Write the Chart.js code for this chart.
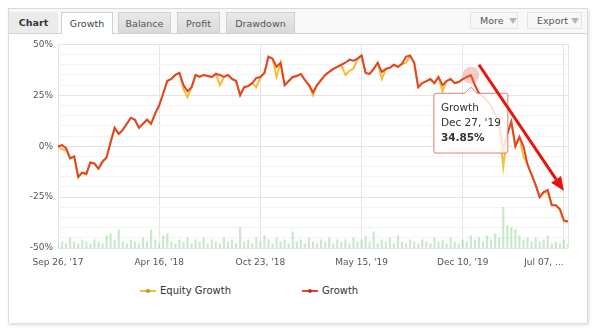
<!DOCTYPE html>
<html>
<head>
<meta charset="utf-8">
<title>Growth</title>
<script src="https://cdn.jsdelivr.net/npm/chart.js@4.4.1/dist/chart.umd.min.js"></script>
<style>
  html, body { margin: 0; padding: 0; width: 599px; height: 336px; overflow: hidden; background: #fff; }
  body { position: relative; font-family: "DejaVu Sans", Verdana, sans-serif; color: #333; }
  #frame { position: absolute; left: 8px; top: 8px; width: 578px; height: 313px; border: 1px solid #dadada;
           background: #f8f8f8; box-shadow: 1px 2px 3px rgba(0,0,0,0.15); }
  #panel { position: absolute; left: 9px; top: 33px; width: 578px; height: 289px; background: #fff; border-top: 1px solid #d2d2d2; }
  #lbl { position: absolute; left: 9px; top: 12px; width: 49px; height: 21px; line-height: 21px; background: #ebebeb;
         font-weight: bold; font-size: 9.5px; text-align: center; color: #333; }
  .tab { position: absolute; top: 12px; height: 21px; line-height: 21px; font-size: 9.5px; color: #555; text-align: center;
         box-sizing: border-box; border: 1px solid #d0d0d0; border-bottom: none; background: linear-gradient(#e9e9e9, #d9d9d9); }
  .tab.on { background: #fff; height: 22px; z-index: 2; color: #444; }
  .btn { position: absolute; top: 12px; height: 17px; line-height: 16px; box-sizing: border-box; border: 1px solid #e3e3e3;
         background: #f7f7f7; font-size: 9.5px; color: #555; padding-left: 9px; }
  .btn i { position: absolute; top: 5px; width: 0; height: 0; border-left: 4px solid transparent; border-right: 4px solid transparent;
           border-top: 6px solid #b5b5b5; }
  canvas { position: absolute; left: 0; top: 34px; }
  .leg { position: absolute; top: 284px; height: 14px; line-height: 14px; font-size: 10px; color: #333; padding-left: 20px; }
  .leg b { position: absolute; left: 0; top: 6px; width: 16px; height: 2px; }
  .leg b::after { content: ''; position: absolute; left: 6px; top: -1px; width: 4px; height: 4px; border-radius: 2px; background: inherit; filter: brightness(0.8); }
</style>
</head>
<body>
<div id="frame"></div>
<div id="panel"></div>
<div id="lbl">Chart</div>
<div class="tab on" style="left:61px;width:52px">Growth</div>
<div class="tab" style="left:118px;width:53px">Balance</div>
<div class="tab" style="left:177px;width:43px">Profit</div>
<div class="tab" style="left:226px;width:69px">Drawdown</div>
<div class="btn" style="left:470px;width:48px">More<i style="left:38px"></i></div>
<div class="btn" style="left:527px;width:55px">Export<i style="left:43px"></i></div>
<canvas id="chart" width="599" height="250"></canvas>
<div class="leg" style="left:140px"><b style="background:#f6bd2e"></b>Equity Growth</div>
<div class="leg" style="left:302px"><b style="background:#e0452c"></b>Growth</div>

<script>
// Tick labels shown every `tickEvery` points along the category axis.
const tickLabels = ["Sep 26, '17", "Apr 16, '18", "Oct 23, '18", "May 15, '19", "Dec 10, '19", "Jul 07, ..."];
const tickEvery = 25;

// Growth (%).
const growth = [
  0, 0.5, -1, -6, -5, -15, -13, -13.5, -8, -8.5,
  -11, -7.5, -5.5, 2, 9, 6, 8, 11, 14, 13,
  9, 11, 13, 11, 16, 20, 26, 32, 33, 35,
  36, 30, 27, 29, 35, 34, 35, 34.5, 34, 35.5,
  35, 34, 35, 33, 32, 25, 29, 29.5, 31, 33.5,
  34, 36, 44, 43, 39, 41, 30, 32, 34, 34.5,
  35.5, 32.5, 30, 26.5, 30, 32.5, 35, 36.5, 38, 39,
  40, 41, 42.5, 42, 43, 44.5, 36, 35.5, 38, 41,
  36.5, 38, 38.5, 40, 39, 40.5, 44, 44.5, 41, 29,
  31, 32, 33, 31, 34, 30, 32, 33, 31, 31.5,
  33, 34, 34.85, 30, 26, 24.5, 22.5, 19.5, 16, 10,
  -1, 6, 12, 0, 4.5, 0, -9, -14, -19, -25,
  -22.5, -21.5, -29, -29, -31, -36.5, -37
];

// Equity growth (%): follows growth, dips below it in places.
const equity = [
  0, -1.5, -2, -6, -5, -15.5, -13, -14, -8, -8.5,
  -11, -8, -5.5, 2, 9, 6, 8, 11, 14, 13,
  9, 11, 13, 11, 16, 20, 26, 32, 33, 35,
  36, 28, 24, 29, 35, 34, 35, 34.5, 34, 35.5,
  30, 34, 35, 33, 32, 25, 29, 29.5, 31, 29,
  34, 36, 44, 43, 34, 41, 30, 32, 34, 34.5,
  35.5, 32.5, 30, 25, 30, 32.5, 35, 36.5, 38, 39,
  40, 35, 37, 38, 43, 44.5, 36, 35.5, 38, 41,
  33, 38, 38.5, 40, 39, 40.5, 41, 44.5, 41, 29,
  31, 32, 33, 31, 34, 27, 32, 33, 31, 31.5,
  33, 34, 34.85, 30, 26, 24.5, 22.5, 19.5, 16, 10,
  -10, 6, 12, 0, 4.5, -5, -9, -14, -19, -25,
  -22.5, -23, -29, -29, -31, -37, -37
];

// Small green bars along the bottom (relative units).
const volume = [
  2, 3, 2, 5, 3, 2, 4, 3, 2, 4,
  3, 2, 6, 7, 4, 9, 3, 2, 4, 3,
  2, 5, 3, 9, 4, 2, 6, 7, 3, 2,
  4, 3, 5, 2, 4, 3, 5, 2, 4, 3,
  2, 5, 3, 4, 2, 10, 3, 4, 2, 5,
  3, 6, 4, 2, 5, 3, 4, 2, 8, 3,
  4, 2, 5, 3, 2, 4, 3, 5, 2, 4,
  3, 4, 2, 5, 3, 4, 6, 3, 8, 2,
  4, 3, 5, 2, 6, 3, 2, 4, 3, 2,
  4, 3, 2, 5, 3, 4, 2, 5, 3, 2,
  4, 3, 6, 4, 5, 3, 6, 4, 7, 5,
  20, 11, 10, 9, 6, 4, 5, 3, 5, 3,
  4, 6, 2, 3, 2, 4, 2
];

// Hovered point shown in the tooltip.
const hoverIndex = 102;
const hoverDate = "Dec 27, '19";

// Red trend arrow, in data units: [index, percent].
const arrowFrom = [104, 40];
const arrowTo = [125, -22];

const GRID = '#e4e4e4';
const GRID_MINOR = '#f3f3f3';
const TEXT = '#555';

Chart.defaults.font.family = "'DejaVu Sans', Verdana, sans-serif";
Chart.defaults.color = TEXT;

const arrowPlugin = {
  id: 'trendArrow',
  afterDraw(chart) {
    const { ctx, scales: { x, y } } = chart;
    const x1 = x.getPixelForValue(arrowFrom[0]), y1 = y.getPixelForValue(arrowFrom[1]);
    const x2 = x.getPixelForValue(arrowTo[0]), y2 = y.getPixelForValue(arrowTo[1]);
    const ang = Math.atan2(y2 - y1, x2 - x1);
    const cos = Math.cos(ang), sin = Math.sin(ang);
    const head = 14, half = 6;
    ctx.save();
    ctx.strokeStyle = ctx.fillStyle = '#e8150f';
    ctx.lineWidth = 3;
    ctx.beginPath();
    ctx.moveTo(x1, y1);
    ctx.lineTo(x2 - head * cos, y2 - head * sin);
    ctx.stroke();
    ctx.beginPath();
    ctx.moveTo(x2, y2);
    ctx.lineTo(x2 - head * cos + half * sin, y2 - head * sin - half * cos);
    ctx.lineTo(x2 - head * cos - half * sin, y2 - head * sin + half * cos);
    ctx.closePath();
    ctx.fill();
    ctx.restore();
  }
};

const chart = new Chart(document.getElementById('chart'), {
  type: 'line',
  data: {
    labels: growth.map((_, i) => i),
    datasets: [
      {
        label: 'Growth', data: growth, borderColor: '#e0452c', borderWidth: 2, tension: 0,
        pointRadius: 0, pointHoverRadius: 8.5, pointHoverBorderWidth: 0,
        pointHoverBackgroundColor: 'rgba(236,110,100,0.35)',
      },
      {
        label: 'Equity Growth', data: equity, borderColor: '#f6bd2e', borderWidth: 2, tension: 0,
        pointRadius: 0, pointHoverRadius: 0,
      },
      {
        type: 'bar', label: 'Volume', data: volume, yAxisID: 'y2',
        backgroundColor: 'rgba(150,210,150,0.5)', barThickness: 1.5,
      },
    ],
  },
  options: {
    responsive: false,
    animation: false,
    layout: { padding: { top: 9, right: 31, left: 0, bottom: 0 } },
    plugins: {
      legend: { display: false },
      tooltip: {
        yAlign: 'top', xAlign: 'center',
        backgroundColor: 'rgba(255,255,255,0.85)',
        borderColor: 'rgba(214,84,70,0.75)', borderWidth: 1, cornerRadius: 2,
        titleColor: '#333', bodyColor: '#333',
        titleFont: { size: 10.5, weight: 'normal' },
        bodyFont: { size: 10.5, weight: 'bold' },
        titleSpacing: 2, titleMarginBottom: 3,
        padding: { top: 9, bottom: 8, left: 7, right: 7 },
        caretSize: 6, caretPadding: 12, displayColors: false,
        callbacks: {
          title: items => [items[0].dataset.label, hoverDate],
          label: item => item.parsed.y.toFixed(2) + '%',
        },
      },
    },
    scales: {
      x: {
        offset: false,
        grid: { color: GRID, drawTicks: false, offset: false },
        border: { display: false },
        ticks: {
          autoSkip: false, maxRotation: 0, minRotation: 0, padding: 9, font: { size: 9 }, color: TEXT,
          callback: (v, i) => {
            if (i % tickEvery === 0) {
              const k = i / tickEvery;
              // last label sits left of its tick, as in the original
              return k === tickLabels.length - 1 ? tickLabels[k] + '\u00a0'.repeat(14) : tickLabels[k];
            }
            return i === growth.length - 1 ? '' : null;
          },
        },
        afterFit: s => { s.height = 36; s.paddingLeft = 0; s.paddingRight = 0; },
      },
      y: {
        min: -50, max: 50,
        grid: { color: c => (c.tick.value % 25 === 0 ? GRID : GRID_MINOR), drawTicks: false },
        border: { display: false },
        ticks: {
          stepSize: 5, autoSkip: false, padding: 5, font: { size: 9 }, color: TEXT,
          callback: v => (v % 25 === 0 ? v + '%' : ''),
        },
        afterFit: s => { s.width = 58; },
      },
      y2: { display: false, min: 0, max: 100 },
    },
  },
  plugins: [arrowPlugin],
});

const active = [{ datasetIndex: 0, index: hoverIndex }];
chart.setActiveElements(active);
chart.tooltip.setActiveElements(active, { x: 0, y: 0 });
chart.update();
</script>
</body>
</html>
